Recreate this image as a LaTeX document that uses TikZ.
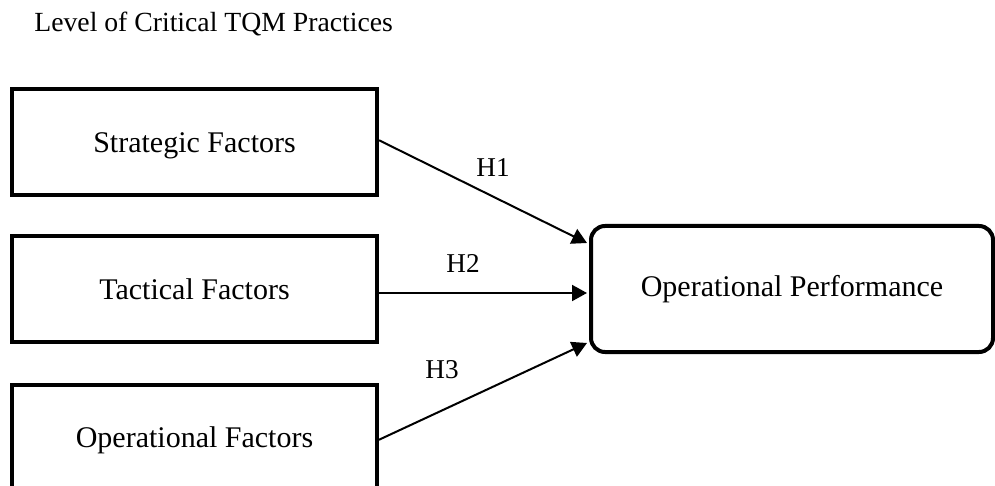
\documentclass[tikz,border=0pt]{standalone}
\usepackage{fontspec}
\setmainfont{Liberation Serif}
\usetikzlibrary{arrows.meta}
\tikzset{
  factor/.style={draw, line width=2pt, minimum width=182.5pt, minimum height=52.75pt, inner sep=0pt, text height=9.93pt, text depth=0pt, font=\fontsize{15}{18}\selectfont},
  outcome/.style={draw, line width=2pt, rounded corners=7pt, minimum width=201pt, minimum height=63pt, inner sep=0pt, text height=7.6pt, text depth=0pt, font=\fontsize{15}{18}\selectfont},
  arr/.style={line width=1pt, -{Triangle[length=7.5pt,width=8pt]}},
  hlab/.style={font=\fontsize{13.6}{16}\selectfont, inner sep=0pt},
}
\begin{document}
\begin{tikzpicture}[x=0.5pt,y=-0.5pt]
\useasboundingbox (0,0) rectangle (995,486);
\node[anchor=base west, inner sep=0pt, font=\fontsize{13.85}{16}\selectfont] (title) at (34,32) {Level of Critical TQM Practices};
\node[factor] (s) at (194.5,142.25) {Strategic Factors};
\node[factor] (t) at (194.5,289.25) {Tactical Factors};
\node[factor] (o) at (194.5,437.75) {Operational Factors};
\node[outcome] (op) at (792,289) {Operational Performance};
\coordinate (t1) at (587,243);
\coordinate (t2) at (587,293);
\coordinate (t3) at (587,343);
\draw[arr] ([yshift=1pt]s.east) -- (t1);
\draw[arr] (t.east |- t2) -- (t2);
\draw[arr] ([yshift=-1pt]o.east) -- (t3);
\node[hlab] (h1) at (493,168) {H1};
\node[hlab] (h2) at (463,263) {H2};
\node[hlab] (h3) at (442,370) {H3};
\end{tikzpicture}
\end{document}
